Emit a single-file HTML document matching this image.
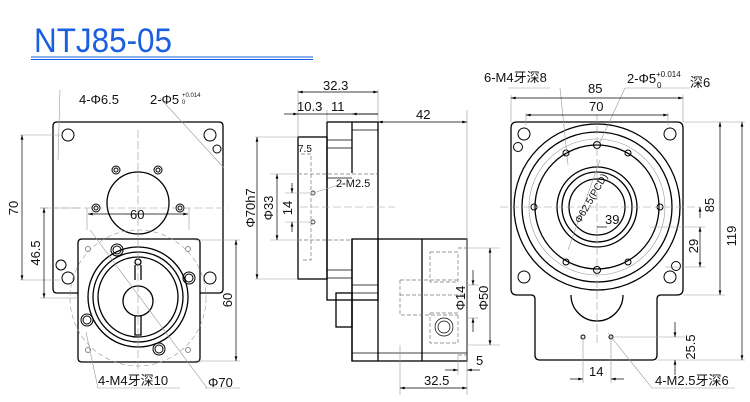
<!DOCTYPE html>
<html><head><meta charset="utf-8"><style>
html,body{margin:0;padding:0;background:#fff;width:750px;height:402px;overflow:hidden}
svg{display:block}
text{font-family:"Liberation Sans","Noto Sans CJK SC",sans-serif;fill:#111}
</style></head><body>
<svg width="750" height="402" viewBox="0 0 750 402" xmlns="http://www.w3.org/2000/svg">
<defs>
<marker id="a" viewBox="0 0 10 6" refX="10" refY="3" markerWidth="8" markerHeight="4" orient="auto-start-reverse"><path d="M0,0L10,3L0,6z" fill="#000"/></marker>
</defs>
<text x="34" y="52" font-size="34" textLength="138" lengthAdjust="spacingAndGlyphs" style="fill:#1a5fe0">NTJ85-05</text>
<line x1="31" y1="57" x2="313" y2="57" stroke="#1a5fe0" stroke-width="1"/>
<line x1="31" y1="59.5" x2="313" y2="59.5" stroke="#1a5fe0" stroke-width="1"/>

<g fill="none" stroke="#000" stroke-width="1.3">
<path d="M57,122H219Q223,122 223,126V289Q223,293 219,293H200V358Q200,362 196,362H82Q78,362 78,358V293H57Q53,293 53,289V126Q53,122 57,122Z" fill="#fff"/>
<path d="M78,293V243Q78,239 82,239H196Q200,239 200,243V293"/>
<circle cx="138" cy="203" r="31"/>
<circle cx="138" cy="297" r="50"/>
<circle cx="138" cy="297" r="45"/>
<circle cx="138" cy="297" r="40"/>
<circle cx="138" cy="301" r="15"/>
<path d="M135,265V280M141,265V280M135,316V335H141V316"/>
<circle cx="138" cy="262" r="3"/>
<g stroke-width="1">
<circle cx="68" cy="135" r="6"/><circle cx="210" cy="135" r="6"/><circle cx="217" cy="149" r="4"/>
<circle cx="61" cy="265" r="5"/><circle cx="68" cy="278" r="6"/><circle cx="210" cy="278" r="6"/>
<circle cx="116" cy="170" r="4"/><circle cx="116" cy="170" r="2"/>
<circle cx="158" cy="170" r="4"/><circle cx="158" cy="170" r="2"/>
<circle cx="96" cy="208" r="4"/><circle cx="96" cy="208" r="2"/>
<circle cx="180" cy="208" r="4"/><circle cx="180" cy="208" r="2"/>
<circle cx="117" cy="250" r="6"/><circle cx="117" cy="250" r="4"/>
<circle cx="189" cy="278" r="6"/><circle cx="189" cy="278" r="4"/>
<circle cx="87" cy="320" r="6"/><circle cx="87" cy="320" r="4"/>
<circle cx="159" cy="349" r="6"/><circle cx="159" cy="349" r="4"/>
<circle cx="88" cy="249" r="2.5" stroke="#888"/><circle cx="188" cy="249" r="2.5" stroke="#888"/>
<circle cx="88" cy="350" r="2.5" stroke="#888"/><circle cx="188" cy="350" r="2.5" stroke="#888"/>
</g>
</g>
<g fill="none" stroke="#999" stroke-width=".6">
<circle cx="138" cy="298" r="68" stroke-dasharray="5,3"/>
<line x1="138" y1="130" x2="138" y2="370" stroke-dasharray="8,3"/>
<line x1="40" y1="208" x2="228" y2="208" stroke-dasharray="8,3"/>
<line x1="20" y1="135" x2="60" y2="135"/><line x1="20" y1="280" x2="60" y2="280"/>
<line x1="40" y1="208" x2="80" y2="208"/><line x1="40" y1="298" x2="78" y2="298"/>
<line x1="195" y1="240" x2="240" y2="240"/><line x1="195" y1="361" x2="240" y2="361"/>
<line x1="87" y1="208" x2="87" y2="230"/><line x1="189" y1="208" x2="189" y2="230"/>
<line x1="60" y1="90" x2="58" y2="160"/><line x1="160" y1="98" x2="224" y2="168"/>
<line x1="98" y1="388" x2="86" y2="332"/><line x1="207" y1="388" x2="90" y2="230"/>
<line x1="98" y1="388" x2="180" y2="388"/><line x1="205" y1="388" x2="240" y2="388"/>
</g>
<g stroke="#000" stroke-width=".7" fill="none">
<line x1="22" y1="135" x2="22" y2="280" marker-start="url(#a)" marker-end="url(#a)"/>
<line x1="44" y1="208" x2="44" y2="298" marker-start="url(#a)" marker-end="url(#a)"/>
<line x1="236" y1="240" x2="236" y2="361" marker-start="url(#a)" marker-end="url(#a)"/>
<line x1="88" y1="214" x2="188" y2="214" marker-start="url(#a)" marker-end="url(#a)"/>
</g>
<g font-size="13" text-anchor="middle">
<text transform="translate(18,208) rotate(-90)">70</text>
<text transform="translate(40,253) rotate(-90)">46.5</text>
<text transform="translate(232,300) rotate(-90)">60</text>
<text transform="translate(255,208) rotate(-90)">Φ70h7</text>
<text transform="translate(273,208) rotate(-90)">Φ33</text>
<text transform="translate(292,208) rotate(-90)">14</text>
<text transform="translate(465,298) rotate(-90)">Φ14</text>
<text transform="translate(488,298) rotate(-90)">Φ50</text>
<text transform="translate(714,205) rotate(-90)">85</text>
<text transform="translate(698,246) rotate(-90)">29</text>
<text transform="translate(736,236) rotate(-90)">119</text>
<text transform="translate(695,347) rotate(-90)">25.5</text>
</g>
<text x="130" y="219" font-size="13">60</text>
<text x="79" y="104" font-size="13">4-Φ6.5</text>
<text x="150" y="104" font-size="13">2-Φ5</text>
<text x="182" y="97" font-size="6">+0.014</text><text x="182" y="104" font-size="6">0</text>
<text x="98" y="385" font-size="13">4-M4牙深10</text>
<text x="208" y="387" font-size="13">Φ70</text>

<g fill="none" stroke="#000" stroke-width="1.3">
<rect x="298" y="137" width="29" height="142"/>
<rect x="327" y="122" width="51" height="178"/>
<line x1="352" y1="122" x2="352" y2="173"/>
<line x1="352" y1="239" x2="352" y2="361"/>
<rect x="352" y="239" width="115" height="122"/>
<line x1="378" y1="239" x2="378" y2="361"/>
<line x1="422" y1="239" x2="422" y2="361"/>
<rect x="336" y="293" width="16" height="34"/>
</g>
<g fill="none" stroke="#000" stroke-width=".7">
<line x1="352" y1="130" x2="378" y2="130"/><line x1="327" y1="140" x2="352" y2="140"/><line x1="327" y1="148" x2="352" y2="148"/>
<line x1="327" y1="178" x2="352" y2="178"/><line x1="327" y1="270" x2="352" y2="270"/><line x1="327" y1="278" x2="352" y2="278"/>
<line x1="352" y1="285" x2="378" y2="285"/><line x1="352" y1="293" x2="378" y2="293"/>
<line x1="352" y1="353" x2="467" y2="353"/>
<circle cx="313" cy="193" r="2"/><circle cx="313" cy="222" r="2"/>
<circle cx="444" cy="327" r="9"/><circle cx="444" cy="327" r="6"/>
</g>
<g fill="none" stroke="#777" stroke-width=".7" stroke-dasharray="4,2">
<path d="M301,154H311V260H301"/>
<line x1="298" y1="174" x2="378" y2="174"/><line x1="298" y1="240" x2="352" y2="240"/>
<rect x="430" y="252" width="28" height="30"/><rect x="430" y="313" width="28" height="30"/>
<path d="M400,280H458M400,280V315H458M400,295H467"/>
<path d="M458,248H467M458,355H467"/>
</g>
<g fill="none" stroke="#999" stroke-width=".6">
<line x1="298" y1="90" x2="298" y2="137"/><line x1="378" y1="90" x2="378" y2="122"/><line x1="327" y1="110" x2="327" y2="122"/>
<line x1="467" y1="110" x2="467" y2="395"/>
<line x1="255" y1="137" x2="298" y2="137"/><line x1="255" y1="279" x2="298" y2="279"/>
<line x1="270" y1="174" x2="300" y2="174"/><line x1="270" y1="240" x2="300" y2="240"/>
<line x1="285" y1="193" x2="313" y2="193"/><line x1="285" y1="222" x2="313" y2="222"/>
<line x1="300" y1="207" x2="395" y2="207" stroke-dasharray="8,3"/>
<line x1="313" y1="193" x2="345" y2="183"/>
<line x1="467" y1="248" x2="500" y2="248"/><line x1="467" y1="345" x2="500" y2="345"/>
<line x1="467" y1="285" x2="478" y2="285"/><line x1="467" y1="318" x2="478" y2="318"/>
<line x1="400" y1="345" x2="400" y2="395"/><line x1="458" y1="355" x2="458" y2="375"/>
</g>
<g stroke="#000" stroke-width=".7" fill="none">
<line x1="298" y1="92" x2="378" y2="92" marker-start="url(#a)" marker-end="url(#a)"/>
<line x1="284" y1="114" x2="298" y2="114" marker-end="url(#a)"/><line x1="298" y1="114" x2="378" y2="114"/><line x1="378" y1="114" x2="352" y2="114" marker-end="url(#a)"/>
<line x1="378" y1="122" x2="467" y2="122" marker-start="url(#a)" marker-end="url(#a)"/>
<line x1="257" y1="137" x2="257" y2="279" marker-start="url(#a)" marker-end="url(#a)"/>
<line x1="277" y1="174" x2="277" y2="240" marker-start="url(#a)" marker-end="url(#a)"/>
<line x1="292" y1="183" x2="292" y2="193" marker-end="url(#a)"/><line x1="292" y1="232" x2="292" y2="222" marker-end="url(#a)"/>
<line x1="490" y1="248" x2="490" y2="345" marker-start="url(#a)" marker-end="url(#a)"/>
<line x1="473" y1="270" x2="473" y2="285" marker-end="url(#a)"/><line x1="473" y1="332" x2="473" y2="318" marker-end="url(#a)"/>
<line x1="400" y1="388" x2="467" y2="388" marker-start="url(#a)" marker-end="url(#a)"/>
<line x1="445" y1="370" x2="458" y2="370" marker-end="url(#a)"/><line x1="480" y1="370" x2="467" y2="370" marker-end="url(#a)"/>
</g>
<text x="323" y="90" font-size="13">32.3</text>
<text x="297" y="111" font-size="13">10.3</text>
<text x="331" y="111" font-size="13">11</text>
<text x="416" y="119" font-size="13">42</text>
<text x="298" y="152" font-size="10">7.5</text>
<text x="336" y="187" font-size="11">2-M2.5</text>
<text x="476" y="365" font-size="13">5</text>
<text x="424" y="385" font-size="13">32.5</text>

<g fill="none" stroke="#000" stroke-width="1.3">
<path d="M517,122H677Q683,122 683,128V289Q683,295 677,295H661Q657,295 657,299V355Q657,360 652,360H540Q535,360 535,355V299Q535,295 531,295H517Q511,295 511,289V128Q511,122 517,122Z" fill="#fff"/>
<circle cx="597" cy="207" r="83"/>
<circle cx="597" cy="207" r="75"/>
<circle cx="597" cy="207" r="62"/>
<circle cx="597" cy="207" r="40"/>
<circle cx="597" cy="207" r="35"/>
<circle cx="597" cy="207" r="28"/>
<path d="M571,295A26,26 0 0 0 623,295"/>
</g>
<g fill="none" stroke="#000" stroke-width="1">
<circle cx="524" cy="134" r="6"/><circle cx="670" cy="134" r="6"/>
<circle cx="524" cy="277" r="6"/><circle cx="670" cy="277" r="6"/>
<circle cx="518" cy="147" r="4.5"/><circle cx="676" cy="266" r="4.5"/>
<circle cx="597" cy="145" r="3.5"/><circle cx="597" cy="270" r="3.5"/>
<circle cx="566" cy="153" r="3"/><circle cx="628" cy="153" r="3"/>
<circle cx="566" cy="262" r="3"/><circle cx="628" cy="262" r="3"/>
<circle cx="534" cy="207" r="3"/><circle cx="660" cy="207" r="3"/>
<circle cx="583" cy="337" r="2"/><circle cx="611" cy="337" r="2"/>
</g>
<g fill="none" stroke="#999" stroke-width=".6">
<circle cx="597" cy="207" r="68"/>
<line x1="500" y1="207" x2="700" y2="207" stroke-dasharray="8,3"/>
<line x1="597" y1="115" x2="597" y2="345" stroke-dasharray="8,3"/>
<line x1="511" y1="95" x2="511" y2="122"/><line x1="683" y1="95" x2="683" y2="122"/>
<line x1="526" y1="113" x2="526" y2="125"/><line x1="668" y1="113" x2="668" y2="125"/>
<line x1="683" y1="122" x2="745" y2="122"/><line x1="657" y1="360" x2="745" y2="360"/>
<line x1="683" y1="295" x2="725" y2="295"/><line x1="650" y1="227" x2="705" y2="227"/><line x1="665" y1="267" x2="705" y2="267"/>
<line x1="611" y1="337" x2="685" y2="337"/>
<line x1="583" y1="337" x2="583" y2="383"/><line x1="611" y1="337" x2="611" y2="383"/>
<line x1="508" y1="88" x2="550" y2="88"/><line x1="560" y1="88" x2="568" y2="165"/>
<line x1="625" y1="88" x2="600" y2="142"/><line x1="625" y1="88" x2="690" y2="88"/>
<line x1="600" y1="160" x2="568" y2="250"/>
<line x1="652" y1="388" x2="608" y2="333"/><line x1="652" y1="388" x2="735" y2="388"/>
</g>
<g stroke="#000" stroke-width=".7" fill="none">
<line x1="511" y1="98" x2="683" y2="98" marker-start="url(#a)" marker-end="url(#a)"/>
<line x1="526" y1="115" x2="668" y2="115" marker-start="url(#a)" marker-end="url(#a)"/>
<line x1="742" y1="122" x2="742" y2="360" marker-start="url(#a)" marker-end="url(#a)"/>
<line x1="720" y1="122" x2="720" y2="295" marker-start="url(#a)" marker-end="url(#a)"/>
<line x1="700" y1="227" x2="700" y2="267" marker-start="url(#a)" marker-end="url(#a)"/>
<line x1="700" y1="218" x2="700" y2="207" marker-end="url(#a)"/>
<line x1="675" y1="322" x2="675" y2="337" marker-end="url(#a)"/><line x1="675" y1="375" x2="675" y2="360" marker-end="url(#a)"/>
<line x1="570" y1="379" x2="583" y2="379" marker-end="url(#a)"/><line x1="624" y1="379" x2="611" y2="379" marker-end="url(#a)"/>
<line x1="597" y1="227" x2="607" y2="227"/>
</g>
<text x="588" y="93" font-size="13">85</text>
<text x="589" y="111" font-size="13">70</text>
<text x="484" y="82" font-size="13">6-M4牙深8</text>
<text x="627" y="83" font-size="13">2-Φ5</text>
<text x="656" y="77" font-size="8">+0.014</text><text x="657" y="88" font-size="8">0</text>
<text x="690" y="87" font-size="13">深6</text>
<text x="605" y="224" font-size="13">39</text>
<text font-size="10" text-anchor="middle" transform="translate(594,200) rotate(-60)">Φ62.5(PCD)</text>
<text x="589" y="376" font-size="13">14</text>
<text x="655" y="385" font-size="13">4-M2.5牙深6</text>
</svg>
</body></html>
